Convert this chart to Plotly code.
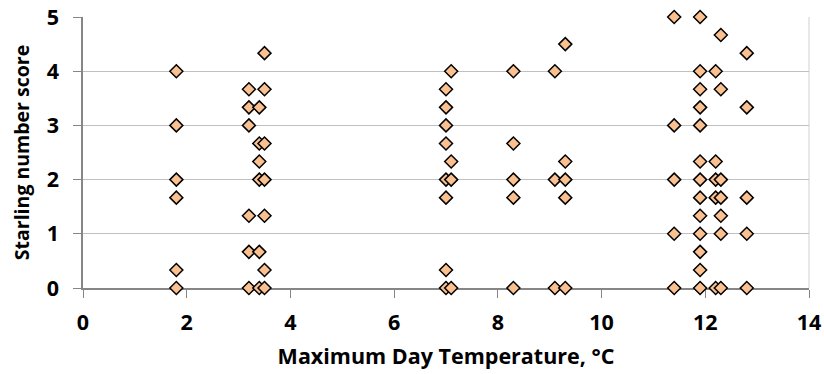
import plotly.graph_objects as go

# Maximum day temperature (°C) and starling number score, one entry per observation
temp_c = (
    [1.8] * 6 + [3.2] * 6 + [3.4] * 6 + [3.5] * 7 + [7.0] * 8 + [7.1] * 4 +
    [8.3] * 5 + [9.1] * 3 + [9.3] * 5 + [11.4] * 5 + [11.9] * 13 +
    [12.2] * 5 + [12.3] * 7 + [12.8] * 5
)
score = (
    [4, 3, 2, 1.667, 0.333, 0] +
    [3.667, 3.333, 3, 1.333, 0.667, 0] +
    [3.333, 2.667, 2.333, 2, 0.667, 0] +
    [4.333, 3.667, 2.667, 2, 1.333, 0.333, 0] +
    [3.667, 3.333, 3, 2.667, 2, 1.667, 0.333, 0] +
    [4, 2.333, 2, 0] +
    [4, 2.667, 2, 1.667, 0] +
    [4, 2, 0] +
    [4.5, 2.333, 2, 1.667, 0] +
    [5, 3, 2, 1, 0] +
    [5, 4, 3.667, 3.333, 3, 2.333, 2, 1.667, 1.333, 1, 0.667, 0.333, 0] +
    [4, 2.333, 2, 1.667, 0] +
    [4.667, 3.667, 2, 1.667, 1.333, 1, 0] +
    [4.333, 3.333, 1.667, 1, 0]
)
x_ticks = [0, 2, 4, 6, 8, 10, 12, 14]
y_ticks = [0, 1, 2, 3, 4, 5]

FONT = "Open Sans"
FS = 21.5
W = "bold"

fig = go.Figure()
fig.add_trace(go.Scatter(
    x=temp_c, y=score, mode="markers", cliponaxis=False,
    marker=dict(symbol="diamond", size=10, color="#FAC090",
                line=dict(color="#000000", width=1.5)),
    showlegend=False, hoverinfo="x+y",
))

fig.update_layout(
    width=824, height=374,
    margin=dict(l=83, r=15, t=17, b=86, autoexpand=False),
    paper_bgcolor="white", plot_bgcolor="white",
    font=dict(family=FONT, size=FS, color="#000000", weight=W),
    shapes=[dict(type="line", xref="paper", yref="paper", x0=1, x1=1, y0=0, y1=1,
                 line=dict(color="#D0D0D0", width=1), layer="below")],
)
fig.update_xaxes(
    range=[0, 14], tickvals=x_ticks, ticktext=[str(v) for v in x_ticks],
    showgrid=False, zeroline=False, automargin=False,
    showline=True, linecolor="#868686", linewidth=1.5,
    ticks="outside", ticklen=8, tickcolor="#868686", tickwidth=1,
    tickfont=dict(family=FONT, size=FS, weight=W),
    ticklabelstandoff=6,
    title=dict(text="Maximum Day Temperature, °C",
               font=dict(family=FONT, size=FS, weight=W), standoff=14),
    layer="below traces",
)
fig.update_yaxes(
    range=[0, 5], tickvals=y_ticks, ticktext=[str(v) for v in y_ticks],
    showgrid=True, gridcolor="#C0C0C0", gridwidth=1, zeroline=False, automargin=False,
    showline=True, linecolor="#868686", linewidth=1.5,
    ticks="outside", ticklen=8, tickcolor="#868686", tickwidth=1,
    tickfont=dict(family=FONT, size=FS, weight=W),
    ticklabelstandoff=10,
    title=dict(text="Starling number score",
               font=dict(family=FONT, size=19.5, weight=W), standoff=12),
    layer="below traces",
)

fig.write_html("out.html")
